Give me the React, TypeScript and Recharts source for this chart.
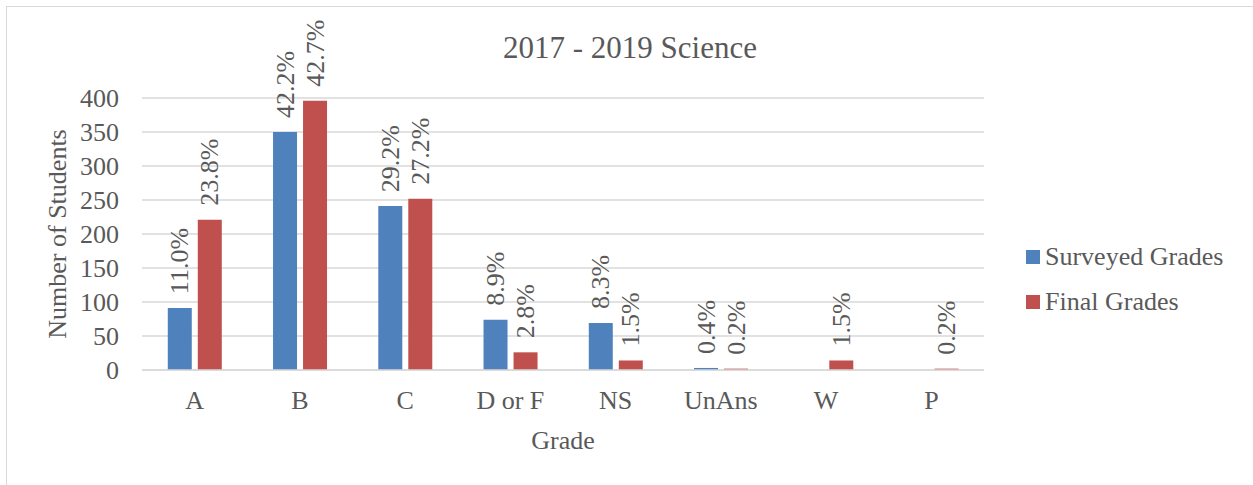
import React from 'react';
import { BarChart, Bar, XAxis, YAxis, CartesianGrid, Legend, LabelList } from 'recharts';

const categories = ['A', 'B', 'C', 'D or F', 'NS', 'UnAns', 'W', 'P'];
const surveyedGrades = [91, 350, 241, 74, 69, 3, null, null];
const finalGrades = [221, 396, 252, 26, 14, 2, 14, 2];
const surveyedPct = ['11.0%', '42.2%', '29.2%', '8.9%', '8.3%', '0.4%', null, null];
const finalPct = ['23.8%', '42.7%', '27.2%', '2.8%', '1.5%', '0.2%', '1.5%', '0.2%'];
const yTicks = [0, 50, 100, 150, 200, 250, 300, 350, 400];
const seriesOrder = ['surveyed', 'final'];

const FONT = '"Liberation Serif", "Times New Roman", serif';
const TEXT = '#595959';
const BLUE = '#4F81BD';
const RED = '#C0504D';
const GRID = '#D9D9D9';

const data = categories.map((name, i) => ({
  name,
  surveyed: surveyedGrades[i],
  final: finalGrades[i],
  surveyedPct: surveyedPct[i],
  finalPct: finalPct[i],
}));

// percentage label, rotated to read bottom-to-top, sitting above the bar
const PctLabel = (props: any) => {
  const { x, y, width, value } = props;
  if (value == null) return null;
  const cx = Number(x) + Number(width) / 2;
  const ty = Number(y) - 14;
  return (
    <text
      x={cx}
      y={ty}
      transform={`rotate(-90 ${cx} ${ty})`}
      textAnchor="start"
      dominantBaseline="central"
      fontSize={26}
      fontFamily={FONT}
      fill={TEXT}
    >
      {value}
    </text>
  );
};

const LegendBox = (props: any) => {
  const items = [...(props.payload || [])].sort(
    (a: any, b: any) => seriesOrder.indexOf(a.dataKey) - seriesOrder.indexOf(b.dataKey)
  );
  return (
    <div style={{ fontFamily: FONT, fontSize: 26, color: TEXT }}>
      {items.map((it: any, i: number) => (
        <div key={i} style={{ display: 'flex', alignItems: 'center', height: 45 }}>
          <span style={{ width: 14, height: 14, background: it.color, display: 'inline-block', marginRight: 5 }} />
          <span style={{ lineHeight: '26px' }}>{it.value}</span>
        </div>
      ))}
    </div>
  );
};

export default function App() {
  return (
    <div style={{ position: 'fixed', left: 0, top: 0, width: 1253, height: 485, overflow: 'hidden', background: '#fff' }}>
      <div style={{ position: 'absolute', left: 6, top: 6, width: 1270, height: 500, border: `1.5px solid ${GRID}` }} />
      <div style={{ position: 'absolute', left: 0, top: 0 }}>
        <BarChart
          width={1253}
          height={485}
          data={data}
          margin={{ top: 98, right: 269, bottom: 85, left: 82 }}
          barCategoryGap="24.5%"
          barGap={6}
        >
          <CartesianGrid vertical={false} stroke={GRID} strokeWidth={1.5} />
          <XAxis
            dataKey="name"
            height={30}
            tickSize={0}
            tickMargin={21}
            axisLine={{ stroke: GRID, strokeWidth: 1.5 }}
            tick={{ fill: TEXT, fontSize: 26, fontFamily: FONT }}
            interval={0}
          />
          <YAxis
            width={60}
            domain={[0, 400]}
            ticks={yTicks}
            interval={0}
            tickSize={0}
            tickMargin={23}
            axisLine={false}
            tick={{ fill: TEXT, fontSize: 26, fontFamily: FONT }}
          />
          <Legend
            layout="horizontal"
            verticalAlign="middle"
            align="center"
            content={<LegendBox />}
            wrapperStyle={{ position: 'absolute', left: 1026, top: 234, width: 220 }}
          />
          <Bar dataKey="surveyed" name="Surveyed Grades" fill={BLUE} isAnimationActive={false}>
            <LabelList dataKey="surveyedPct" content={<PctLabel />} />
          </Bar>
          <Bar dataKey="final" name="Final Grades" fill={RED} isAnimationActive={false}>
            <LabelList dataKey="finalPct" content={<PctLabel />} />
          </Bar>
        </BarChart>
      </div>
      <svg width={1253} height={485} style={{ position: 'absolute', left: 0, top: 0, pointerEvents: 'none' }}>
        <text x={630} y={58} textAnchor="middle" fontSize={31} fontFamily={FONT} fill={TEXT}>
          2017 - 2019 Science
        </text>
        <text
          x={57}
          y={234}
          transform="rotate(-90 57 234)"
          textAnchor="middle"
          dominantBaseline="central"
          fontSize={26}
          fontFamily={FONT}
          fill={TEXT}
        >
          Number of Students
        </text>
        <text x={563} y={449} textAnchor="middle" fontSize={26} fontFamily={FONT} fill={TEXT}>
          Grade
        </text>
      </svg>
    </div>
  );
}
